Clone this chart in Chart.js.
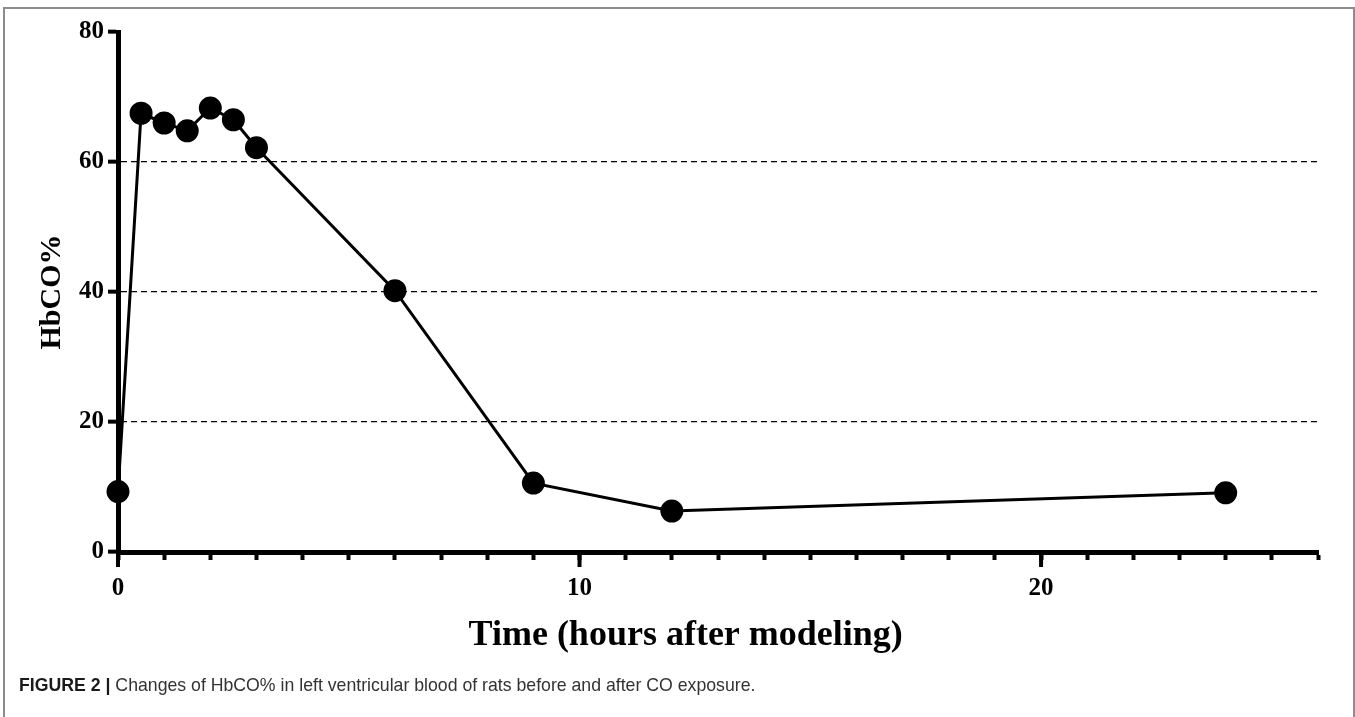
<!DOCTYPE html>
<html>
<head>
<meta charset="utf-8">
<script src="https://cdn.jsdelivr.net/npm/chart.js@4"></script>
<style>
  html, body { margin: 0; padding: 0; background: #fff; }
  #wrap { position: relative; width: 1355px; height: 717px; overflow: hidden; }
  #frame { position: absolute; left: 3px; top: 7px; width: 1348px; height: 720px;
           border: 2px solid #8c8c8c; border-bottom: none; }
  #box { position: absolute; left: 0; top: 0; width: 1355px; height: 717px; }
  #caption { position: absolute; left: 19px; top: 675px; font-family: "Liberation Sans", Arial, sans-serif;
             font-size: 17.7px; color: #333; white-space: nowrap; }
  #caption b { color: #1a1a1a; }
</style>
</head>
<body>
<div id="wrap">
  <div id="frame"></div>
  <div id="box"><canvas id="chart"></canvas></div>
  <div id="caption"><b>FIGURE 2 |</b> Changes of HbCO% in left ventricular blood of rats before and after CO exposure.</div>
</div>
<script>
// hours after modeling and HbCO%
const hours = [0, 0.5, 1, 1.5, 2, 2.5, 3, 6, 9, 12, 24];
const hbco = [9.3, 67.5, 66.0, 64.8, 68.3, 66.5, 62.2, 40.2, 10.6, 6.3, 9.1];
const xLabels = [0, 10, 20];
const xTitle = 'Time (hours after modeling)';
const yTitle = 'HbCO%';

const serif = '"Liberation Serif", "Times New Roman", serif';

// longer tick marks at the labelled hours
const majorTicks = {
  id: 'majorTicks',
  afterDraw(chart) {
    const ctx = chart.ctx;
    const x = chart.scales.x;
    ctx.save();
    ctx.strokeStyle = '#000';
    ctx.lineWidth = 4;
    xLabels.forEach(v => {
      const px = x.getPixelForValue(v);
      ctx.beginPath();
      ctx.moveTo(px, x.top);
      ctx.lineTo(px, x.top + 15);
      ctx.stroke();
    });
    // x axis title, placed as in the figure
    ctx.fillStyle = '#000';
    ctx.font = 'bold 36px ' + serif;
    ctx.textAlign = 'center';
    ctx.textBaseline = 'alphabetic';
    ctx.fillText(xTitle, x.getPixelForValue(12.3), 645);
    ctx.restore();
  }
};

const ctx = document.querySelector('#chart').getContext('2d');
const myChart = new Chart(ctx, {
  type: 'line',
  data: {
    datasets: [{
      label: yTitle,
      data: hours.map((h, i) => ({ x: h, y: hbco[i] })),
      borderColor: '#000',
      backgroundColor: '#000',
      borderWidth: 3,
      pointRadius: 10,
      pointHoverRadius: 10,
      tension: 0,
      clip: false
    }]
  },
  plugins: [majorTicks],
  options: {
    responsive: true,
    maintainAspectRatio: false,
    animation: false,
    layout: { padding: { top: 32, right: 37, bottom: 0, left: 0 } },
    plugins: { legend: { display: false }, tooltip: { enabled: false } },
    scales: {
      x: {
        type: 'linear',
        min: 0,
        max: 26,
        afterFit: s => { s.height = 165; },
        border: { color: '#000', width: 5 },
        grid: { drawOnChartArea: false, tickLength: 8, tickWidth: 4, tickColor: '#000' },
        ticks: {
          stepSize: 1,
          autoSkip: false,
          maxRotation: 0,
          padding: 14,
          color: '#000',
          font: { family: serif, size: 25, weight: 'bold' },
          callback: v => xLabels.includes(v) ? String(v) : ''
        }
      },
      y: {
        min: 0,
        max: 80,
        afterFit: s => { s.width = 118; },
        border: { color: '#000', width: 5, dash: [6, 4] },
        grid: {
          color: c => (c.tick.value === 0 || c.tick.value === 80) ? 'rgba(0,0,0,0)' : '#000',
          lineWidth: 1.3,
          tickBorderDash: [],
          tickLength: 10,
          tickWidth: 4,
          tickColor: '#000'
        },
        ticks: {
          stepSize: 20,
          padding: 4,
          color: '#000',
          font: { family: serif, size: 25, weight: 'bold' }
        },
        title: {
          display: true,
          text: yTitle,
          color: '#000',
          font: { family: serif, size: 30, weight: 'bold' },
          padding: { top: 34, bottom: 0 }
        }
      }
    }
  }
});
</script>
</body>
</html>
